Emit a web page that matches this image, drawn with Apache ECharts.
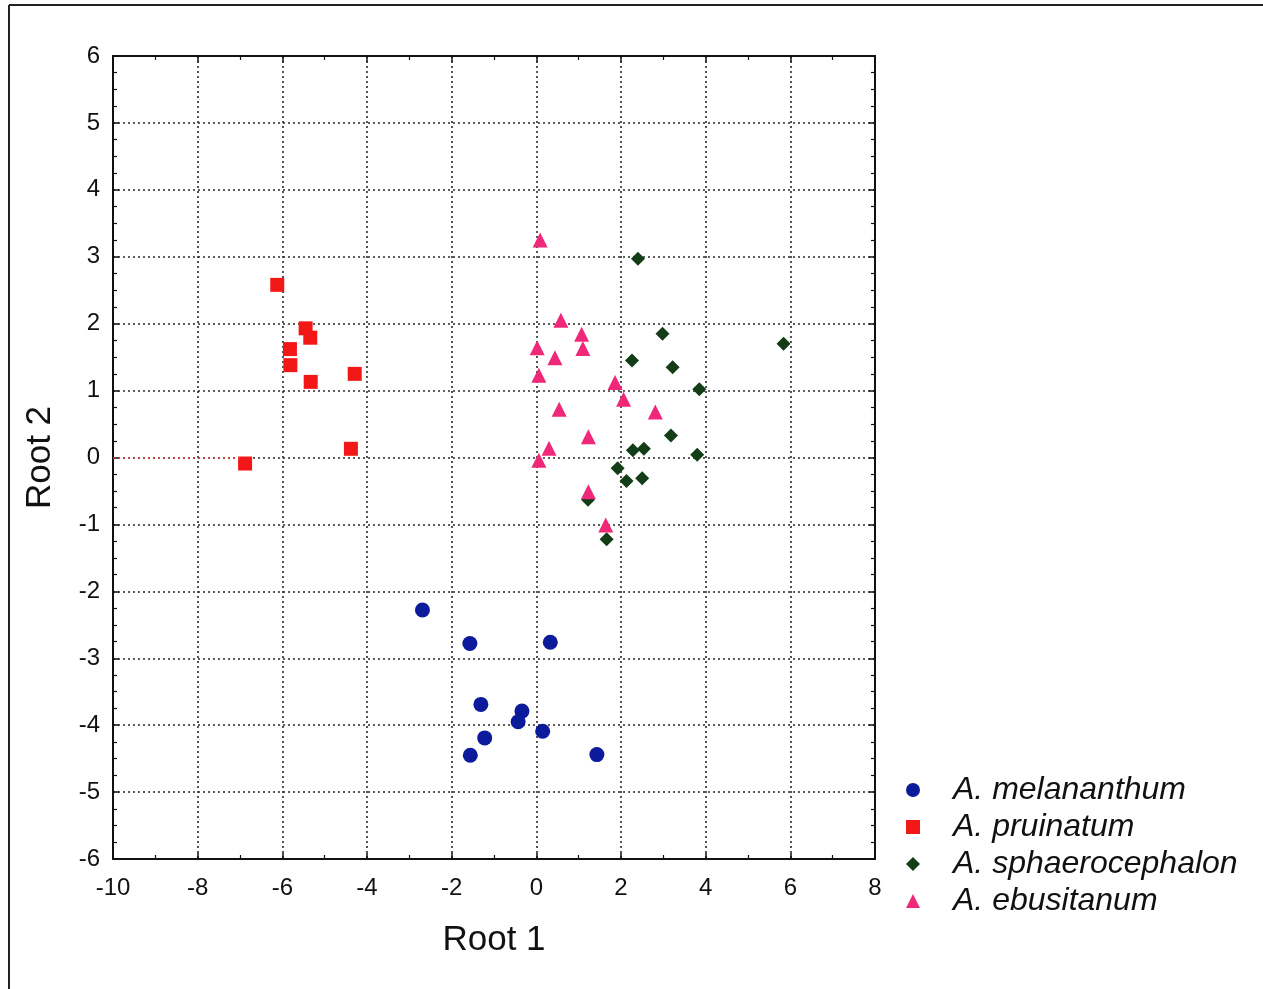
<!DOCTYPE html>
<html>
<head>
<meta charset="utf-8">
<script src="https://cdn.jsdelivr.net/npm/echarts@6/dist/echarts.min.js"></script>
<style>
html, body { margin: 0; padding: 0; background: #fff; }
#chart { width: 1263px; height: 989px; }
</style>
</head>
<body>
<div id="chart"></div>
<script>
// Root 1 / Root 2 scores
const melananthum = [
  [-2.69, -2.28], [-1.57, -2.78], [0.33, -2.76], [-1.31, -3.69], [-0.34, -3.79],
  [-0.43, -3.95], [0.15, -4.09], [-1.22, -4.19], [-1.56, -4.45], [1.43, -4.44]
];
const pruinatum = [
  [-6.12, 2.58], [-5.45, 1.93], [-5.34, 1.79], [-5.82, 1.62], [-5.81, 1.38],
  [-5.33, 1.13], [-4.29, 1.25], [-4.38, 0.13], [-6.88, -0.09]
];
const sphaerocephalon = [
  [2.40, 2.97], [2.98, 1.85], [5.84, 1.70], [2.26, 1.45], [3.22, 1.35],
  [3.85, 1.02], [3.18, 0.33], [2.28, 0.11], [2.54, 0.13], [3.80, 0.04],
  [1.92, -0.16], [2.13, -0.35], [2.50, -0.31], [1.22, -0.63], [1.66, -1.22]
];
const ebusitanum = [
  [0.09, 3.25], [0.58, 2.05], [1.07, 1.84], [1.10, 1.63], [0.02, 1.64],
  [0.44, 1.49], [0.06, 1.23], [1.86, 1.12], [2.06, 0.87], [2.81, 0.68],
  [0.54, 0.72], [1.23, 0.31], [0.30, 0.14], [0.06, -0.04], [1.23, -0.51],
  [1.64, -1.01]
];
const names = ['A. melananthum', 'A. pruinatum', 'A. sphaerocephalon', 'A. ebusitanum'];
const zeroRef = [-10, -7]; // short red dotted stretch along y = 0

const chart = echarts.init(document.getElementById('chart'));

const font = 'Liberation Sans, Arial, sans-serif';
const split = { show: true, lineStyle: { color: '#2a2a2a', type: [2, 3], width: 1.6 } };
const tick = { show: true, inside: true, length: 6, lineStyle: { color: '#111', width: 1.5 } };
const minor = { show: true, length: 4, lineStyle: { color: '#111', width: 1.2 } };
const line = { show: true, onZero: false, lineStyle: { color: '#111', width: 2 } };

chart.setOption({
  animation: false,
  grid: { left: 113, top: 56, right: 388, bottom: 130, show: false },
  legend: {
    orient: 'vertical',
    left: 901,
    top: 769,
    itemWidth: 14,
    itemHeight: 14,
    itemGap: 5,
    data: names,
    textStyle: {
      fontFamily: font, fontStyle: 'italic', fontSize: 32, color: '#111',
      lineHeight: 32, padding: [0, 0, 0, 28]
    }
  },
  xAxis: [
    {
      type: 'value', min: -10, max: 8, interval: 2,
      name: 'Root 1', nameLocation: 'middle', nameGap: 64,
      nameTextStyle: { fontFamily: font, fontSize: 35, color: '#111' },
      axisLine: line, axisTick: tick, minorTick: Object.assign({ splitNumber: 2 }, minor),
      splitLine: split,
      axisLabel: { fontFamily: font, fontSize: 24, color: '#111', margin: 17 }
    },
    {
      type: 'value', min: -10, max: 8, interval: 2, position: 'top',
      axisLine: line, axisTick: tick, minorTick: Object.assign({ splitNumber: 2 }, minor),
      splitLine: { show: false }, axisLabel: { show: false }
    }
  ],
  yAxis: [
    {
      type: 'value', min: -6, max: 6, interval: 1,
      name: 'Root 2', nameLocation: 'middle', nameGap: 55, nameRotate: 90,
      nameTextStyle: { fontFamily: font, fontSize: 35, color: '#111' },
      axisLine: line, axisTick: tick, minorTick: Object.assign({ splitNumber: 4 }, minor),
      splitLine: split,
      axisLabel: { fontFamily: font, fontSize: 24, color: '#111', margin: 13 }
    },
    {
      type: 'value', min: -6, max: 6, interval: 1, position: 'right',
      axisLine: line, axisTick: tick, minorTick: Object.assign({ splitNumber: 4 }, minor),
      splitLine: { show: false }, axisLabel: { show: false }
    }
  ],
  graphic: [
    { type: 'line', shape: { x1: 9, y1: 5, x2: 9, y2: 989 }, style: { stroke: '#222', lineWidth: 2 } },
    { type: 'line', shape: { x1: 9, y1: 5, x2: 1263, y2: 5 }, style: { stroke: '#222', lineWidth: 2 } }
  ],
  series: [
    {
      name: names[0], type: 'scatter', symbol: 'circle', symbolSize: 15,
      itemStyle: { color: '#0c1a9c', opacity: 1 }, data: melananthum
    },
    {
      name: names[1], type: 'scatter', symbol: 'rect', symbolSize: 14,
      itemStyle: { color: '#f21818', opacity: 1 }, data: pruinatum,
      markLine: {
        silent: true, symbol: 'none', label: { show: false },
        lineStyle: { color: '#e04040', type: [2, 3], width: 1.5 },
        data: [[{ coord: [zeroRef[0], 0] }, { coord: [zeroRef[1], 0] }]]
      }
    },
    {
      name: names[2], type: 'scatter', symbol: 'diamond', symbolSize: 14,
      itemStyle: { color: '#123d16', opacity: 1 }, data: sphaerocephalon
    },
    {
      name: names[3], type: 'scatter', symbol: 'triangle', symbolSize: 15,
      itemStyle: { color: '#f0287a', opacity: 1 }, data: ebusitanum
    }
  ]
});
</script>
</body>
</html>
